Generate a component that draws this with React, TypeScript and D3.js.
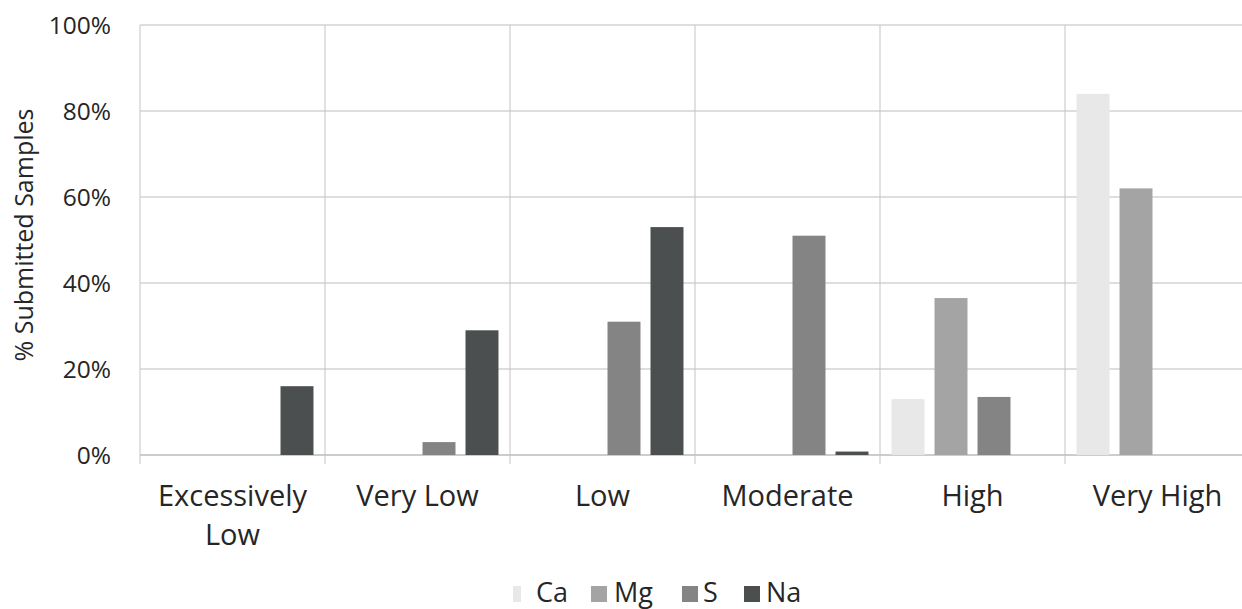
import React from "react";
import * as d3 from "d3";

const categories = ["Excessively Low", "Very Low", "Low", "Moderate", "High", "Very High"];
const seriesNames = ["Ca", "Mg", "S", "Na"];
const caValues = [0, 0, 0, 0, 13, 84];
const mgValues = [0, 0, 0, 0, 36.5, 62];
const sValues = [0, 3, 31, 51, 13.5, 0];
const naValues = [16, 29, 53, 0.8, 0, 0];
const yTicks = [0, 20, 40, 60, 80, 100];
const colors = ["#e8e8e8", "#a4a4a4", "#848484", "#4c4f4f"];

const W = 1242;
const H = 609;
const FONT = "'Open Sans', Lato, sans-serif";
const TEXT = "#262626";

export default function App() {
  const seriesValues = [caValues, mgValues, sValues, naValues];
  const x = d3.scaleBand<string>().domain(categories).range([140, 1250]);
  const xi = d3
    .scaleBand<string>()
    .domain(seriesNames)
    .range([0, x.bandwidth()])
    .paddingInner(0.233)
    .paddingOuter(0.268);
  const y = d3.scaleLinear().domain([0, 100]).range([455, 25]);

  const catLines = (c: string) => (c === "Excessively Low" ? ["Excessively", "Low"] : [c]);

  const legendItems = [
    { name: "Ca", sx: 505, tx: 536 },
    { name: "Mg", sx: 591, tx: 614 },
    { name: "S", sx: 682, tx: 703 },
    { name: "Na", sx: 744, tx: 766 },
  ];

  return (
    <svg
      width={W}
      height={H}
      style={{ position: "absolute", left: 0, top: 0, background: "#fff" }}
      fontFamily={FONT}
    >
      {yTicks.map((t) => (
        <line
          key={"h" + t}
          x1={140}
          x2={W}
          y1={y(t)}
          y2={y(t)}
          stroke={t === 0 ? "#9a9a9a" : "#bdbdbd"}
          strokeWidth={1}
        />
      ))}
      {categories.map((c) => (
        <line
          key={"v" + c}
          x1={x(c)!}
          x2={x(c)!}
          y1={y(100)}
          y2={y(0) + 9}
          stroke="#c4c4c4"
          strokeWidth={1}
        />
      ))}
      {categories.map((c, ci) =>
        seriesNames.map((s, si) => {
          const v = seriesValues[si][ci];
          if (v <= 0) return null;
          return (
            <rect
              key={c + s}
              x={x(c)! + xi(s)!}
              y={y(v)}
              width={xi.bandwidth()}
              height={y(0) - y(v)}
              fill={colors[si]}
            />
          );
        })
      )}
      {yTicks.map((t) => (
        <text
          key={"yt" + t}
          x={111}
          y={y(t)}
          dy="0.35em"
          textAnchor="end"
          fontSize={24.5}
          fill={TEXT}
        >
          {t + "%"}
        </text>
      ))}
      <text
        transform={`translate(33, ${235}) rotate(-90)`}
        textAnchor="middle"
        fontSize={25}
        fill={TEXT}
      >
        % Submitted Samples
      </text>
      {categories.map((c) => (
        <text
          key={"c" + c}
          x={x(c)! + x.bandwidth() / 2}
          y={506}
          textAnchor="middle"
          fontSize={29}
          fill={TEXT}
        >
          {catLines(c).map((l, i) => (
            <tspan key={i} x={x(c)! + x.bandwidth() / 2} dy={i === 0 ? 0 : 39}>
              {l}
            </tspan>
          ))}
        </text>
      ))}
      {legendItems.map((it, i) => (
        <g key={it.name}>
          <rect x={it.sx + (i === 0 ? 8 : 0)} y={586} width={i === 0 ? 8 : 16} height={16} fill={colors[i]} />
          <text x={it.tx} y={602} fontSize={27} fill={TEXT}>
            {it.name}
          </text>
        </g>
      ))}
    </svg>
  );
}
